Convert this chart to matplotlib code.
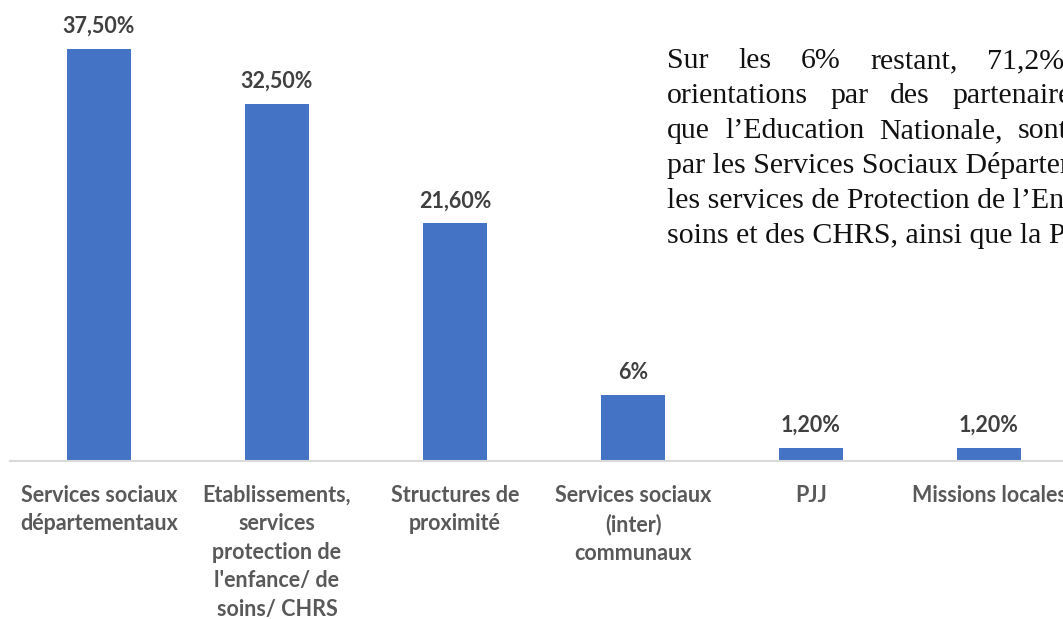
import matplotlib.pyplot as plt

# data
categories = [
    "Services sociaux\ndépartementaux",
    "Etablissements,\nservices\nprotection de\nl'enfance/ de\nsoins/ CHRS",
    "Structures de\nproximité",
    "Services sociaux\n(inter)\ncommunaux",
    "PJJ",
    "Missions locales",
]
values = [37.5, 32.5, 21.6, 6.0, 1.2, 1.2]
value_labels = ["37,50%", "32,50%", "21,60%", "6%", "1,20%", "1,20%"]

# texte a droite (justifie, coupe au bord)
para_lines = [
    ["Sur", "les", "6%", "restant,", "71,2%"],
    ["orientations", "par", "des", "partenaires"],
    ["que", "l’Education", "Nationale,", "sont"],
    ["par les Services Sociaux Départementaux"],
    ["les services de Protection de l’Enfance"],
    ["soins et des CHRS, ainsi que la PJJ."],
]
# debut (px) du dernier mot visible des lignes justifiees
last_word_x = [987, 952, 1018, None, None, None]

W, H = 1063, 619
fig = plt.figure(figsize=(W / 100, H / 100), dpi=100)
ax = fig.add_axes([10 / W, 158 / H, 1068 / W, 440 / H])

x = range(len(categories))
ax.bar(x, values, width=0.354, color="#4472C4")

ax.set_xlim(-0.5, len(categories) - 0.5)
ax.set_ylim(0, 40)

for s in ["top", "right", "left"]:
    ax.spines[s].set_visible(False)
ax.spines["bottom"].set_color("#D9D9D9")
ax.spines["bottom"].set_linewidth(1.5)
ax.set_yticks([])
ax.set_xticks(list(x))
ax.set_xticklabels(categories, fontsize=15.5, fontweight="bold",
                   color="#595959", family="Lato", linespacing=1.44)
ax.tick_params(axis="x", length=0, pad=17)

for i, v in enumerate(values):
    ax.annotate(value_labels[i], (i, v), xytext=(0, 11.5), textcoords="offset points",
                ha="center", va="baseline", fontsize=15.5, fontweight="bold",
                color="#404040", family="Lato")

# paragraphe, justifie a la main
renderer = fig.canvas.get_renderer()
x0 = 667
for k, words in enumerate(para_lines):
    y = 1 - (68 + 35 * k) / H
    texts = [fig.text(0, y, w, fontsize=21.5, family="Liberation Serif",
                      color="#111111", va="baseline", ha="left") for w in words]
    widths = [t.get_window_extent(renderer).width for t in texts]
    if last_word_x[k] is None or len(words) < 2:
        gap = 0
    else:
        gap = (last_word_x[k] - x0 - sum(widths[:-1])) / (len(words) - 1)
    px = x0
    for t, wd in zip(texts, widths):
        t.set_x(px / W)
        px += wd + gap

fig.savefig("out.png", dpi=100)
